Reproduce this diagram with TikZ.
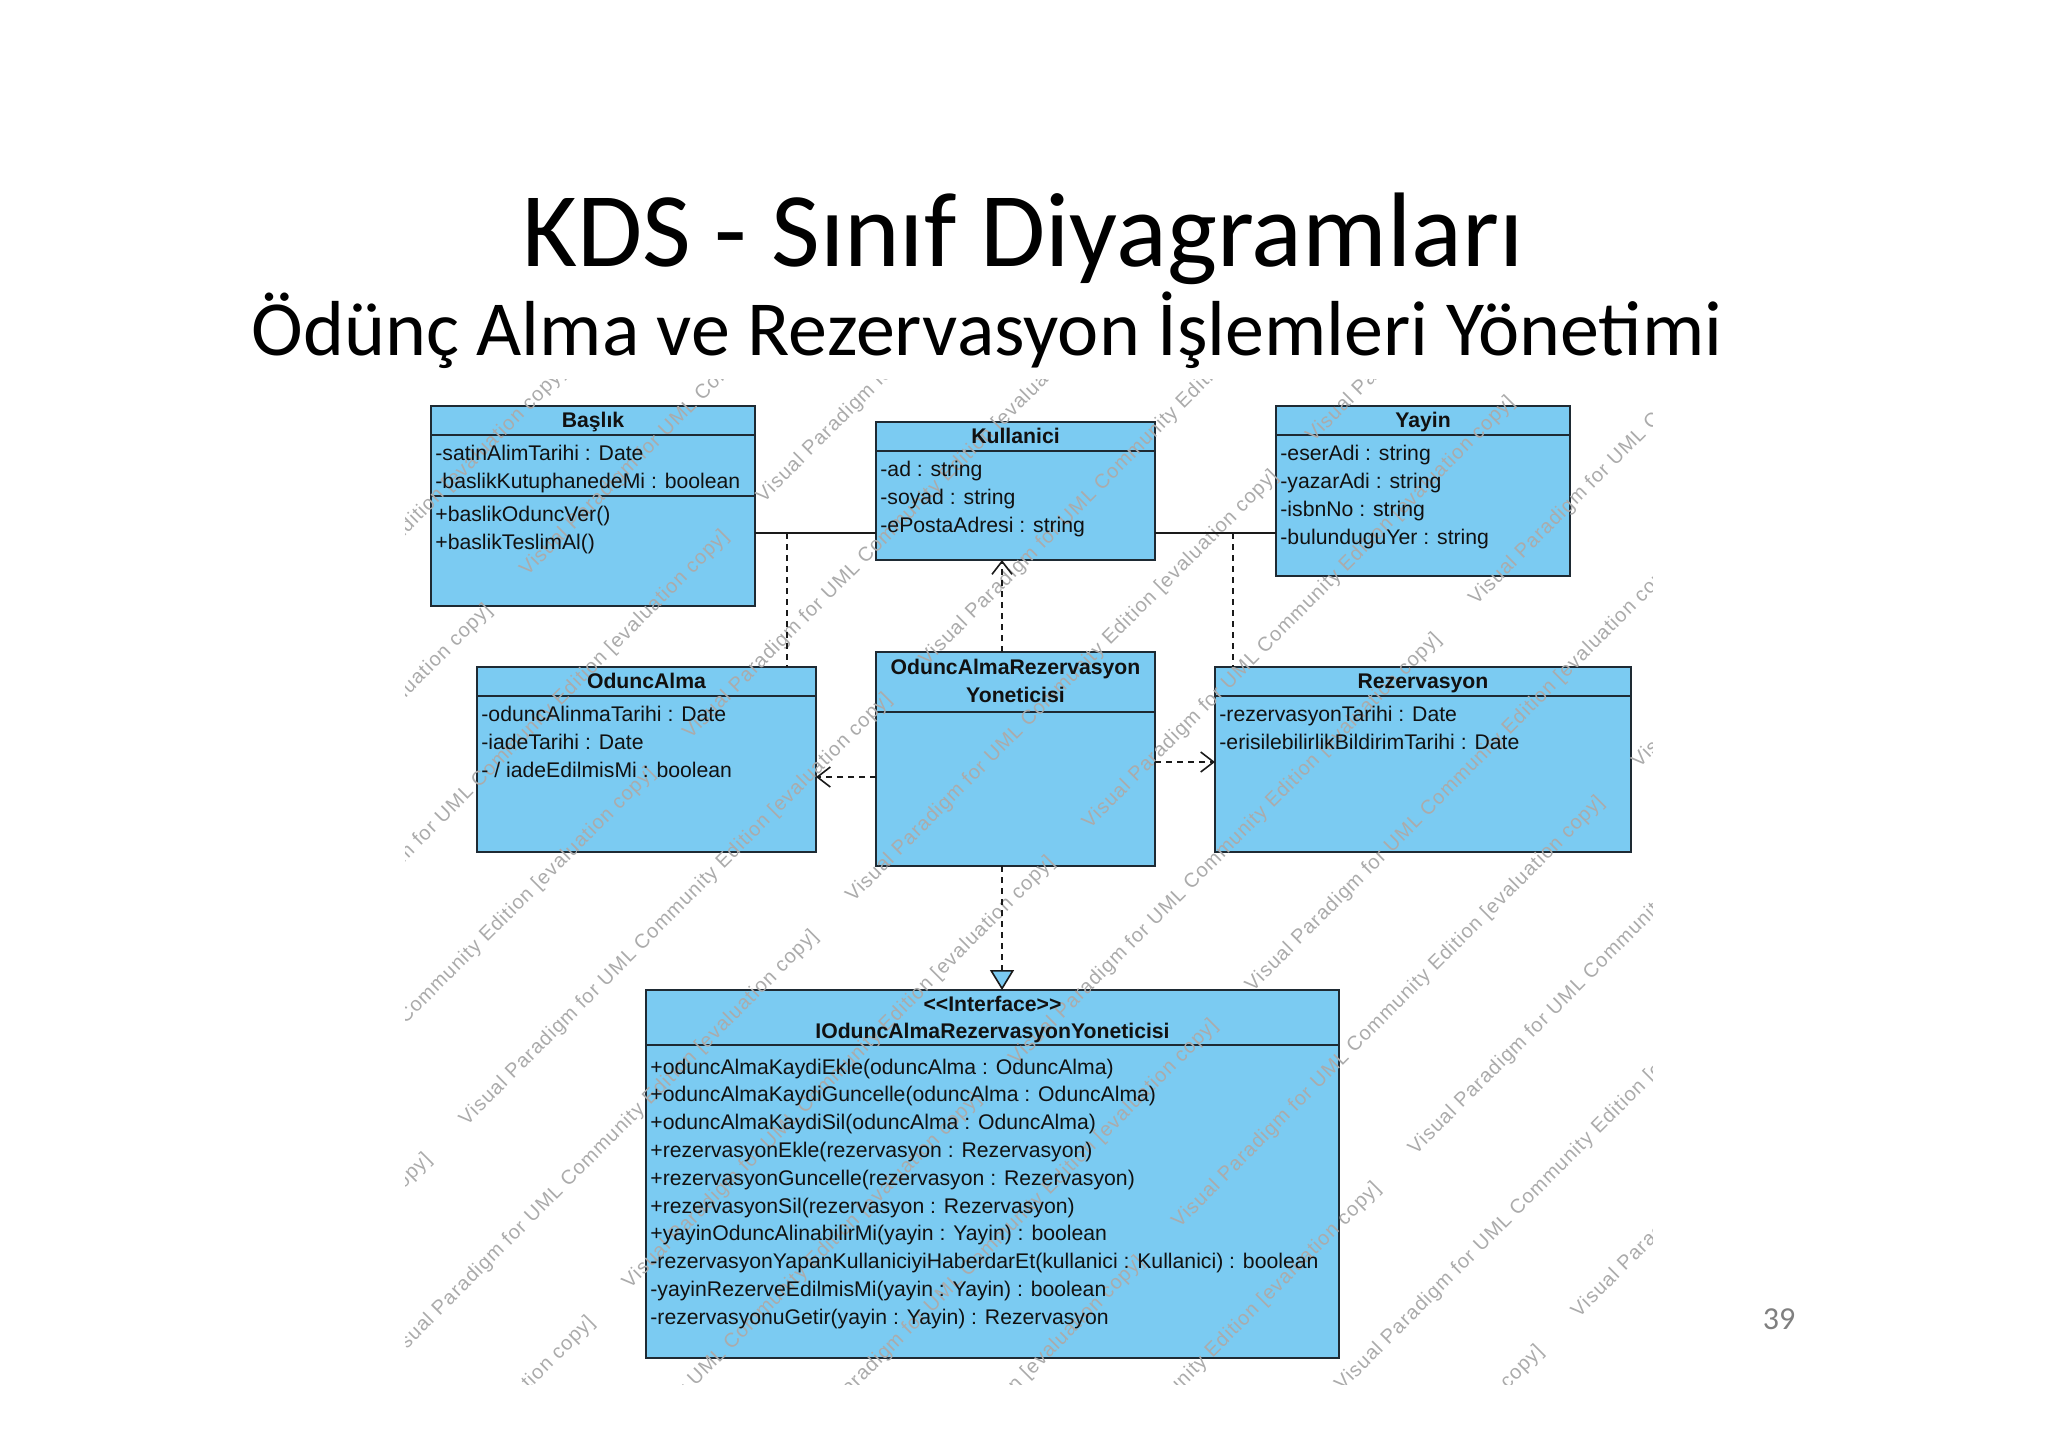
\documentclass[tikz,border=0pt]{standalone}
\usepackage{fontspec}
\setmainfont{Liberation Sans}
\newfontfamily\titlefont{Carlito}
\newfontfamily\umlfont{Liberation Sans}
\newfontfamily\wmfont[LetterSpace=5]{Liberation Sans}
\usetikzlibrary{arrows.meta}
\definecolor{clsfill}{HTML}{7BCBF2}
\definecolor{clsline}{HTML}{1E2A33}
\definecolor{umltext}{HTML}{111111}
\definecolor{linecol}{HTML}{1A1A1A}
\definecolor{wmcol}{HTML}{ABABAB}
\definecolor{pgcol}{HTML}{7F7F7F}
\begin{document}
\begin{tikzpicture}[x=0.5pt,y=-0.5pt,
  cls/.style={draw=clsline, line width=1.1pt, fill=clsfill, rectangle, inner sep=0pt, outer sep=0pt},
  sepline/.style={draw=clsline, line width=1.1pt},
  attr/.style={anchor=base west, inner sep=0pt, text=umltext, font=\umlfont\fontsize{10.6}{12}\selectfont},
  cname/.style={anchor=base, inner sep=0pt, text=umltext, font=\umlfont\bfseries\fontsize{10.6}{12}\selectfont},
  assoc/.style={draw=linecol, line width=0.8pt},
  dep/.style={draw=linecol, line width=0.8pt, dash pattern=on 3pt off 2.5pt},
  deparrow/.style={dep, -{Straight Barb[length=6.5pt,width=10pt]}},
  realize/.style={dep, -{Triangle[length=10pt,width=12pt,fill=clsfill]}},
  wmtext/.style={anchor=base west, inner sep=0pt, rotate=45, text=wmcol, font=\wmfont\fontsize{10}{12}\selectfont},
  titletext/.style={anchor=base, inner sep=0pt, text=black},
]
\useasboundingbox (0,0) rectangle (2048,1447);
\fill[white] (0,0) rectangle (2048,1447);

% titles
\node[titletext, font=\titlefont\fontsize{53}{60}\selectfont] (title) at (1023,266) {KDS - Sınıf Diyagramları};
\node[titletext, font=\titlefont\fontsize{39}{46}\selectfont] (subtitle) at (987,355) {Ödünç Alma ve Rezervasyon İşlemleri Yönetimi};
\node[anchor=base, inner sep=0pt, text=pgcol, font=\titlefont\fontsize{16}{18}\selectfont] (pagenum) at (1779,1329) {39};

% class boxes
\node[cls, minimum width=162pt, minimum height=100pt] (bas) at (593,506) {};
\node[cls, minimum width=139.5pt, minimum height=69pt] (kul) at (1015.5,491) {};
\node[cls, minimum width=147pt, minimum height=85pt] (yay) at (1423,491) {};
\node[cls, minimum width=169.5pt, minimum height=92.5pt] (odu) at (646.5,759.5) {};
\node[cls, minimum width=139.5pt, minimum height=107pt] (yon) at (1015.5,759) {};
\node[cls, minimum width=208pt, minimum height=92.5pt] (rez) at (1423,759.5) {};
\node[cls, minimum width=346.5pt, minimum height=184pt] (ifc) at (992.5,1174) {};

% compartment lines
\draw[sepline] ([yshift=-14.5pt]bas.north west) -- ([yshift=-14.5pt]bas.north east);
\draw[sepline] ([yshift=-45pt]bas.north west) -- ([yshift=-45pt]bas.north east);
\draw[sepline] ([yshift=-14.5pt]kul.north west) -- ([yshift=-14.5pt]kul.north east);
\draw[sepline] ([yshift=-14.5pt]yay.north west) -- ([yshift=-14.5pt]yay.north east);
\draw[sepline] ([yshift=-14.5pt]odu.north west) -- ([yshift=-14.5pt]odu.north east);
\draw[sepline] ([yshift=-30pt]yon.north west) -- ([yshift=-30pt]yon.north east);
\draw[sepline] ([yshift=-14.5pt]rez.north west) -- ([yshift=-14.5pt]rez.north east);
\draw[sepline] ([yshift=-27.5pt]ifc.north west) -- ([yshift=-27.5pt]ifc.north east);

% watermark (evaluation copy text of the modelling tool)
\begin{scope}
\clip (405,379) rectangle (1652,1384);
\foreach \k [count=\kk] in {-3,...,10} {
  \foreach \j [count=\jj] in {-2,...,1} {
    \pgfmathsetmacro{\ss}{1267+163*\k}
    \pgfmathsetmacro{\dd}{ifthenelse(mod(\k+10,2)==0,260,-50)+920*\j}
    \node[wmtext] (wm\kk x\jj) at ({(\ss+\dd)/2},{(\ss-\dd)/2}) {Visual Paradigm for UML Community Edition [evaluation copy]};
  }
}
\end{scope}

% Baslik
\node[cname] (basN) at ([yshift=-10.5pt]bas.north) {Başlık};
\node[attr] (basA1) at ([xshift=2pt,yshift=-27pt]bas.north west) {-satinAlimTarihi : Date};
\node[attr] (basA2) at ([xshift=2pt,yshift=-41pt]bas.north west) {-baslikKutuphanedeMi : boolean};
\node[attr] (basM1) at ([xshift=2pt,yshift=-57.5pt]bas.north west) {+baslikOduncVer()};
\node[attr] (basM2) at ([xshift=2pt,yshift=-71.5pt]bas.north west) {+baslikTeslimAl()};

% Kullanici
\node[cname] (kulN) at ([yshift=-10.5pt]kul.north) {Kullanici};
\node[attr] (kulA1) at ([xshift=2pt,yshift=-27pt]kul.north west) {-ad : string};
\node[attr] (kulA2) at ([xshift=2pt,yshift=-41pt]kul.north west) {-soyad : string};
\node[attr] (kulA3) at ([xshift=2pt,yshift=-55pt]kul.north west) {-ePostaAdresi : string};

% Yayin
\node[cname] (yayN) at ([yshift=-10.5pt]yay.north) {Yayin};
\node[attr] (yayA1) at ([xshift=2pt,yshift=-27pt]yay.north west) {-eserAdi : string};
\node[attr] (yayA2) at ([xshift=2pt,yshift=-41pt]yay.north west) {-yazarAdi : string};
\node[attr] (yayA3) at ([xshift=2pt,yshift=-55pt]yay.north west) {-isbnNo : string};
\node[attr] (yayA4) at ([xshift=2pt,yshift=-69pt]yay.north west) {-bulunduguYer : string};

% OduncAlma
\node[cname] (oduN) at ([yshift=-10.5pt]odu.north) {OduncAlma};
\node[attr] (oduA1) at ([xshift=2pt,yshift=-27pt]odu.north west) {-oduncAlinmaTarihi : Date};
\node[attr] (oduA2) at ([xshift=2pt,yshift=-41pt]odu.north west) {-iadeTarihi : Date};
\node[attr] (oduA3) at ([xshift=2pt,yshift=-55pt]odu.north west) {- / iadeEdilmisMi : boolean};

% Yonetici
\node[cname] (yonN1) at ([yshift=-11pt]yon.north) {OduncAlmaRezervasyon};
\node[cname] (yonN2) at ([yshift=-25pt]yon.north) {Yoneticisi};

% Rezervasyon
\node[cname] (rezN) at ([yshift=-10.5pt]rez.north) {Rezervasyon};
\node[attr] (rezA1) at ([xshift=2pt,yshift=-27pt]rez.north west) {-rezervasyonTarihi : Date};
\node[attr] (rezA2) at ([xshift=2pt,yshift=-41pt]rez.north west) {-erisilebilirlikBildirimTarihi : Date};

% Interface
\node[cname] (ifcS) at ([yshift=-10.5pt]ifc.north) {<\kern0pt<Interface>\kern0pt>};
\node[cname] (ifcN) at ([yshift=-24pt]ifc.north) {IOduncAlmaRezervasyonYoneticisi};
\node[attr] (ifcM1) at ([xshift=2pt,yshift=-42pt]ifc.north west) {+oduncAlmaKaydiEkle(oduncAlma : OduncAlma)};
\node[attr] (ifcM2) at ([xshift=2pt,yshift=-55.9pt]ifc.north west) {+oduncAlmaKaydiGuncelle(oduncAlma : OduncAlma)};
\node[attr] (ifcM3) at ([xshift=2pt,yshift=-69.8pt]ifc.north west) {+oduncAlmaKaydiSil(oduncAlma : OduncAlma)};
\node[attr] (ifcM4) at ([xshift=2pt,yshift=-83.7pt]ifc.north west) {+rezervasyonEkle(rezervasyon : Rezervasyon)};
\node[attr] (ifcM5) at ([xshift=2pt,yshift=-97.6pt]ifc.north west) {+rezervasyonGuncelle(rezervasyon : Rezervasyon)};
\node[attr] (ifcM6) at ([xshift=2pt,yshift=-111.5pt]ifc.north west) {+rezervasyonSil(rezervasyon : Rezervasyon)};
\node[attr] (ifcM7) at ([xshift=2pt,yshift=-125.4pt]ifc.north west) {+yayinOduncAlinabilirMi(yayin : Yayin) : boolean};
\node[attr] (ifcM8) at ([xshift=2pt,yshift=-139.3pt]ifc.north west) {-rezervasyonYapanKullaniciyiHaberdarEt(kullanici : Kullanici) : boolean};
\node[attr] (ifcM9) at ([xshift=2pt,yshift=-153.2pt]ifc.north west) {-yayinRezerveEdilmisMi(yayin : Yayin) : boolean};
\node[attr] (ifcM10) at ([xshift=2pt,yshift=-167.1pt]ifc.north west) {-rezervasyonuGetir(yayin : Yayin) : Rezervasyon};

% connector anchor points
\coordinate (assocL) at (787,533);
\coordinate (assocR) at (1233,533);
\coordinate (kulArr) at (1002,560);
\coordinate (yonTop) at (1002,652);
\coordinate (yonBot) at (1002,866);
\coordinate (ifcTop) at (1002,990);

% associations
\draw[assoc] (bas.east |- assocL) -- (kul.west |- assocL);
\draw[assoc] (kul.east |- assocR) -- (yay.west |- assocR);
% association class links
\draw[dep] (assocL) -- (assocL |- odu.north);
\draw[dep] (assocR) -- (assocR |- rez.north);
% dependencies
\draw[deparrow] (yonTop) -- (kulArr);
\draw[deparrow] (yon.west |- 0,777) -- (odu.east |- 0,777);
\draw[deparrow] (yon.east |- 0,762) -- (rez.west |- 0,762);
% realization
\draw[realize] (yonBot) -- (ifcTop);
\end{tikzpicture}
\end{document}
